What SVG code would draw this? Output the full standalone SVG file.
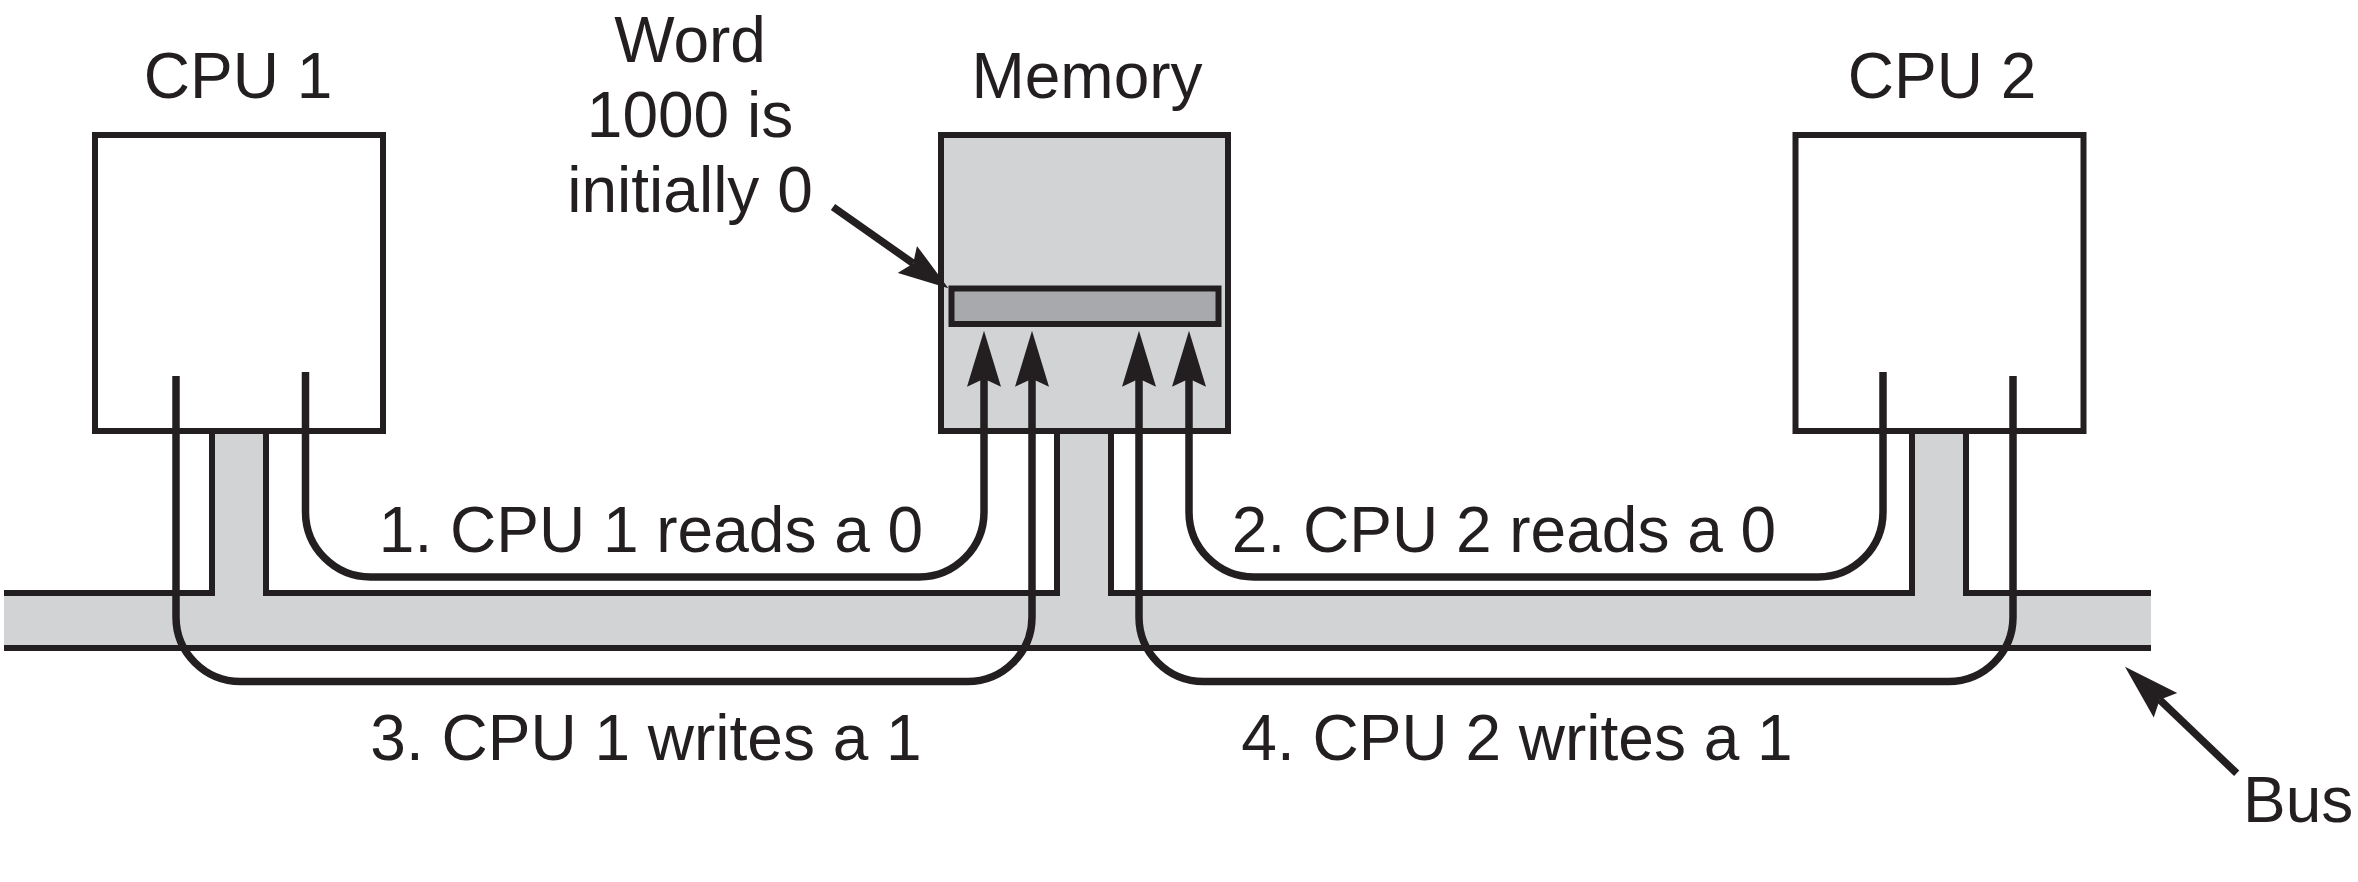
<svg xmlns="http://www.w3.org/2000/svg" width="2358" height="882" viewBox="0 0 2358 882">
<style>
.bg{fill:#ffffff}
.box{fill:#ffffff;stroke:#231f20;stroke-width:6}
.mem{fill:#d1d3d4;stroke:#231f20;stroke-width:6}
.word{fill:#a7a9ac;stroke:#231f20;stroke-width:6}
.busfill{fill:#d1d3d4;stroke:none}
.busline{fill:none;stroke:#231f20;stroke-width:6;stroke-linejoin:miter}
.conn{fill:none;stroke:#231f20;stroke-width:7.5}
.ptr{fill:none;stroke:#231f20;stroke-width:7.5}
.lbl{font-family:"Liberation Sans",Arial,Helvetica,sans-serif;font-size:64px;fill:#231f20}
.mid{text-anchor:middle}
</style>
<defs>
<marker id="arrowUp" markerUnits="userSpaceOnUse" viewBox="0 -18 58 36" markerWidth="58" markerHeight="36" refX="8" refY="0" orient="auto">
<path d="M56,0 L0,-17 L8,0 L0,17 Z" fill="#231f20"/>
</marker>
<marker id="arrowPtr" markerUnits="userSpaceOnUse" viewBox="0 -18 58 36" markerWidth="58" markerHeight="36" refX="7" refY="0" orient="auto">
<path d="M50,0 L0,-16.5 L7,0 L0,16.5 Z" fill="#231f20"/>
</marker>
</defs>
<rect class="bg" x="0" y="0" width="2358" height="882"/>

<g id="bus">
<path class="busfill" d="M4,593 H212 V431 H266 V593 H1057 V431 H1111 V593 H1912 V431 H1966 V593 H2151 V648 H4 Z"/>
</g>

<g id="cpu1">
<rect class="box" x="95" y="135" width="288" height="296"/>
<text class="lbl mid" x="238" y="98">CPU 1</text>
</g>

<g id="memory">
<rect class="mem" x="941" y="135" width="287" height="296"/>
<rect class="word" x="951.5" y="288.5" width="267" height="35.5"/>
<text class="lbl mid" x="1087" y="98">Memory</text>
</g>

<g id="cpu2">
<rect class="box" x="1795.5" y="135" width="288" height="296"/>
<text class="lbl mid" x="1942" y="98">CPU 2</text>
</g>

<g id="bus-outline">
<polyline class="busline" points="4,593 212,593 212,431"/>
<polyline class="busline" points="266,431 266,593 1057,593 1057,431"/>
<polyline class="busline" points="1111,431 1111,593 1912,593 1912,431"/>
<polyline class="busline" points="1966,431 1966,593 2151,593"/>
<line class="busline" x1="4" y1="648" x2="2151" y2="648"/>
<text class="lbl" x="2243" y="822">Bus</text>
</g>

<g id="word-label">
<text class="lbl mid" x="690" y="62">Word</text>
<text class="lbl mid" x="690" y="137">1000 is</text>
<text class="lbl mid" x="690" y="212">initially 0</text>
</g>

<g id="connectors">
<path class="conn" marker-end="url(#arrowUp)" d="M305.5,372 V512 A65,65 0 0 0 370.5,577 H919 A65,65 0 0 0 984,512 V378.7"/>
<path class="conn" marker-end="url(#arrowUp)" d="M176,376 V617 A64.5,64.5 0 0 0 240.5,681.5 H967.5 A64.5,64.5 0 0 0 1032,617 V378.7"/>
<path class="conn" marker-end="url(#arrowUp)" d="M1883,372 V512 A65,65 0 0 1 1818,577 H1254 A65,65 0 0 1 1189,512 V378.7"/>
<path class="conn" marker-end="url(#arrowUp)" d="M2013,376 V617 A64.5,64.5 0 0 1 1948.5,681.5 H1203.5 A64.5,64.5 0 0 1 1139,617 V378.7"/>
<line class="ptr" marker-end="url(#arrowPtr)" x1="833" y1="207" x2="913.2" y2="263.4"/>
<line class="ptr" marker-end="url(#arrowUp)" x1="2236.7" y1="773.3" x2="2159.7" y2="699.8"/>
</g>

<g id="step-labels">
<text class="lbl mid" x="651" y="552">1. CPU 1 reads a 0</text>
<text class="lbl mid" x="1504" y="552">2. CPU 2 reads a 0</text>
<text class="lbl mid" x="646" y="760">3. CPU 1 writes a 1</text>
<text class="lbl mid" x="1517" y="760">4. CPU 2 writes a 1</text>
</g>
</svg>
